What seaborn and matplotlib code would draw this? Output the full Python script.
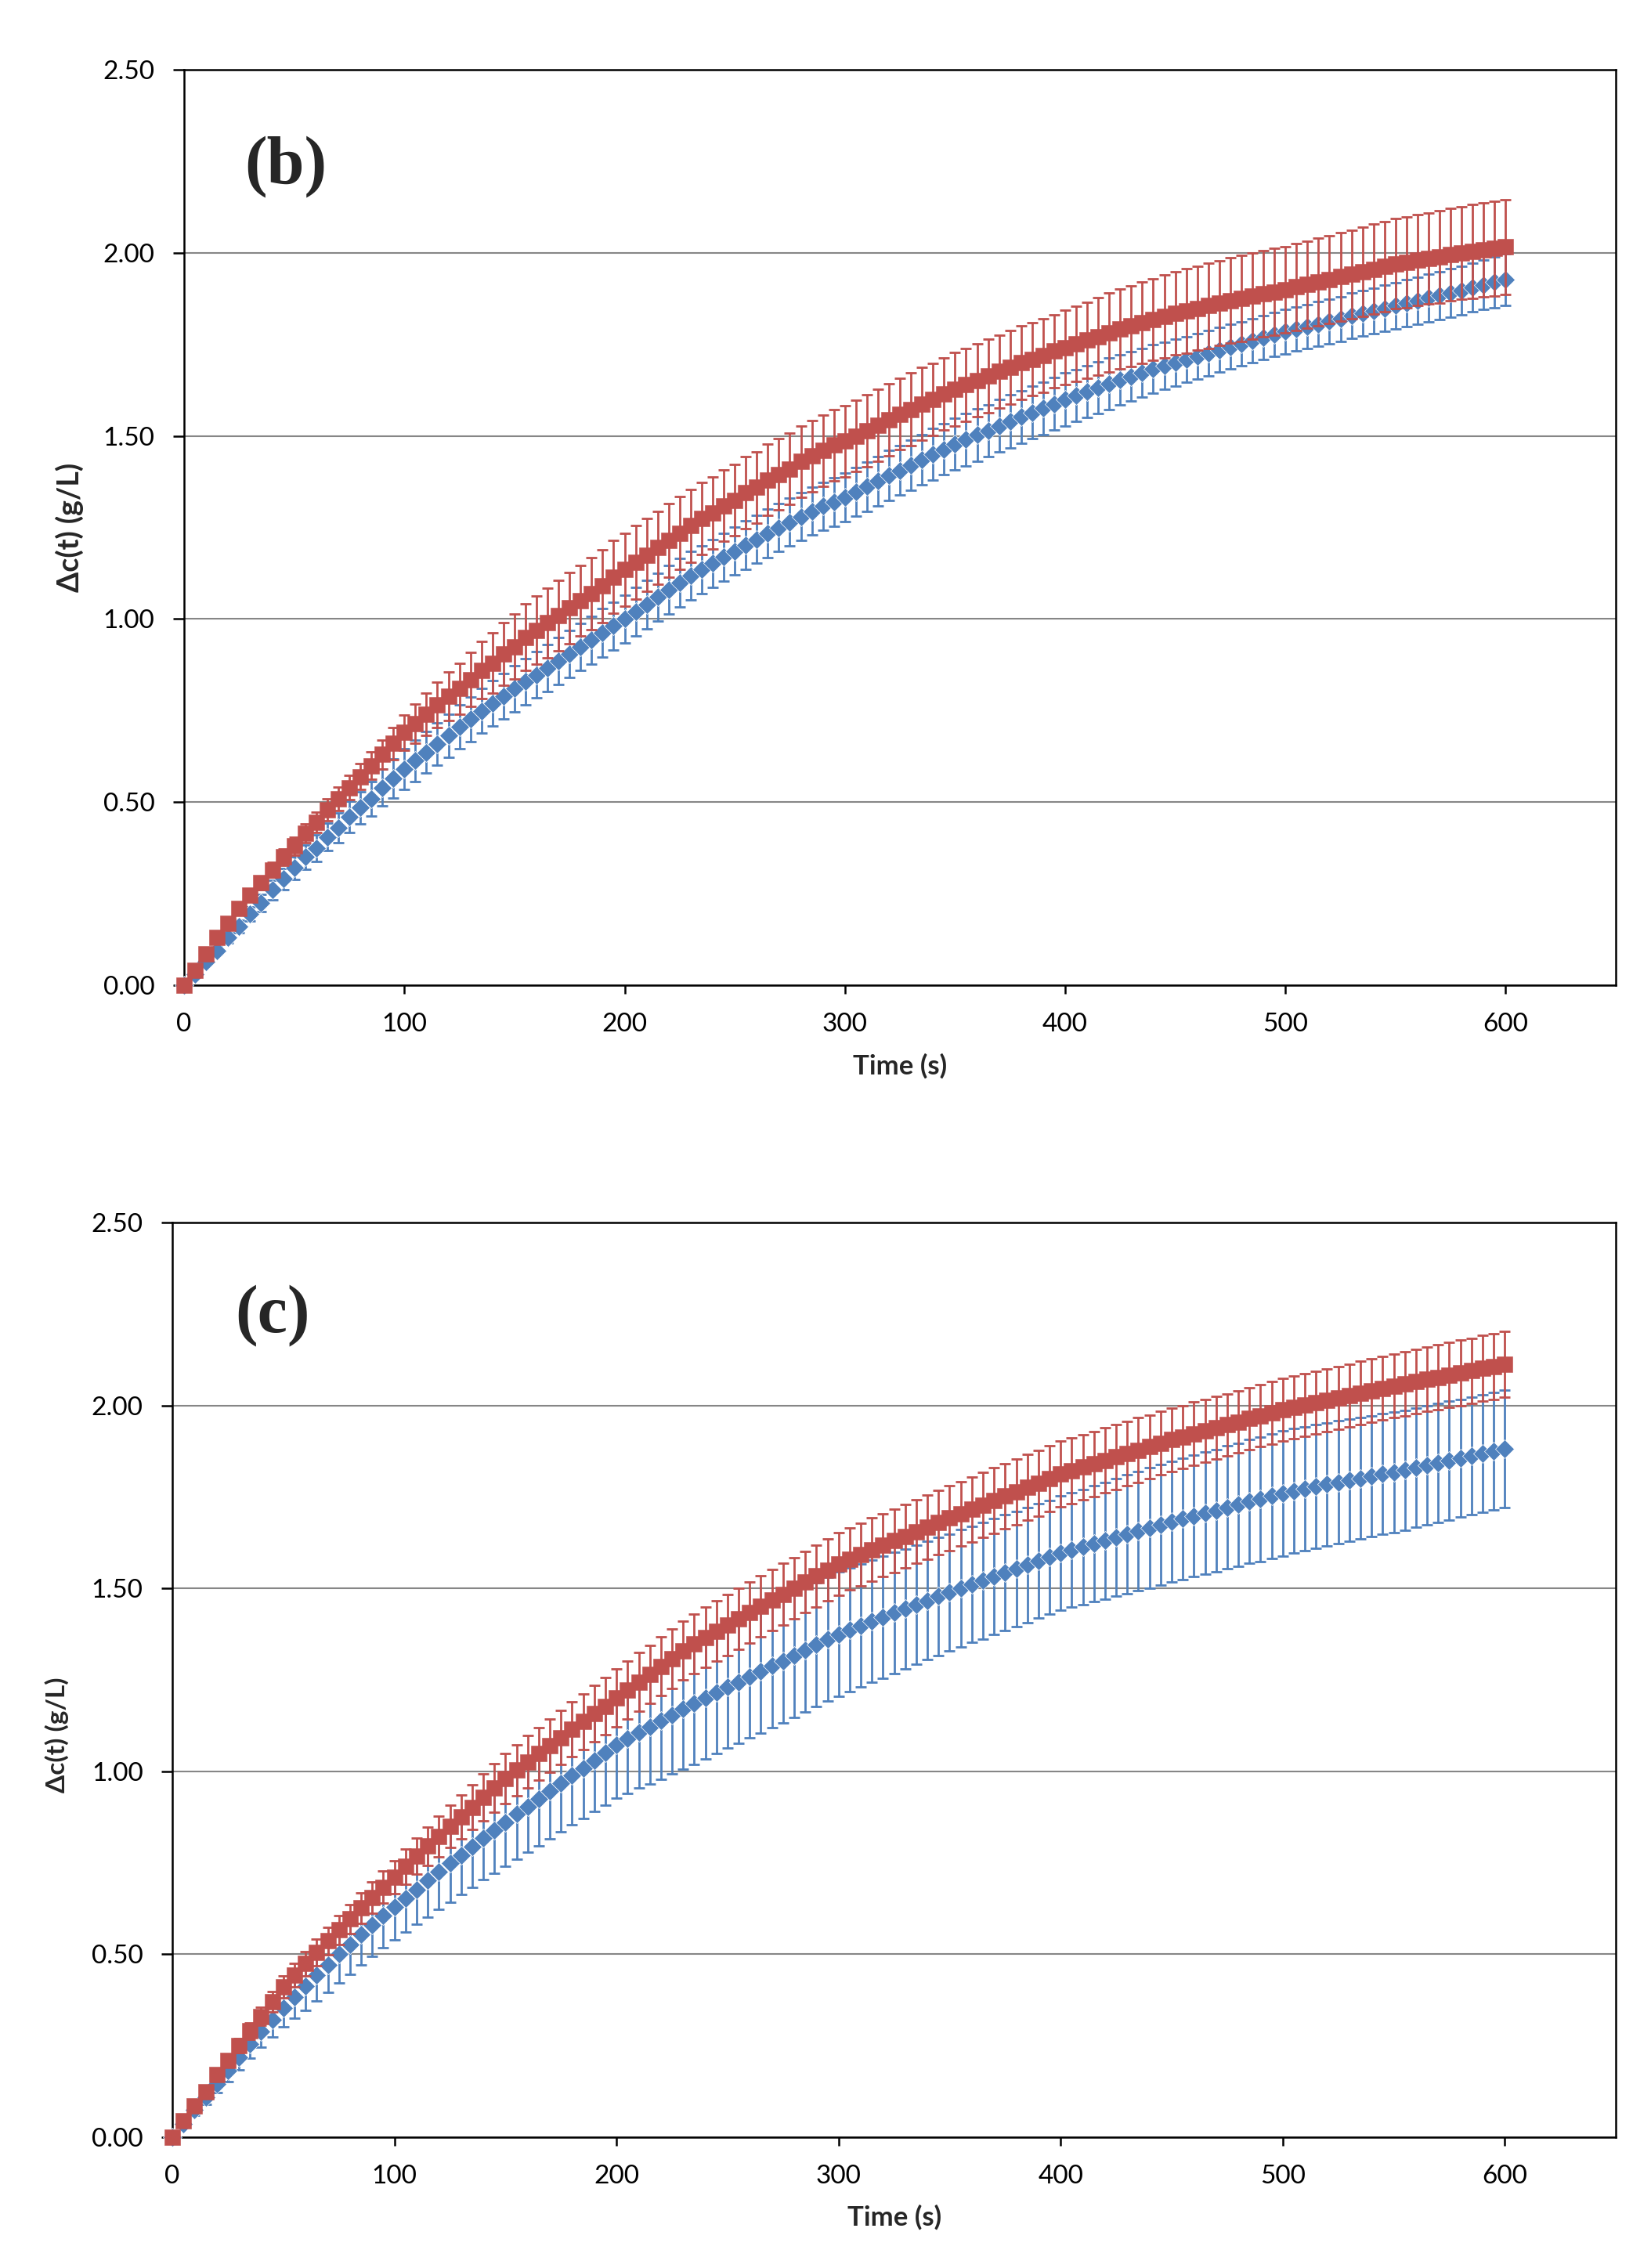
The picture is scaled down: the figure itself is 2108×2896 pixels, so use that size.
#import packages
import numpy as np
import pandas as pd
import matplotlib
matplotlib.use("Agg")
import matplotlib.pyplot as plt
import seaborn as sns

#data, one point every 5 s from 0 to 600 s

time = list(range(0, 605, 5))

b_red = [0.000, 0.040, 0.085, 0.130, 0.170, 0.210, 0.245, 0.280, 0.315, 0.350,
         0.380, 0.415, 0.445, 0.480, 0.510, 0.540, 0.570, 0.600, 0.630, 0.660,
         0.690, 0.715, 0.740, 0.765, 0.790, 0.810, 0.835, 0.860, 0.880, 0.905,
         0.925, 0.950, 0.970, 0.990, 1.010, 1.030, 1.050, 1.070, 1.090, 1.115,
         1.135, 1.155, 1.175, 1.195, 1.215, 1.235, 1.255, 1.275, 1.290, 1.310,
         1.325, 1.345, 1.360, 1.380, 1.395, 1.410, 1.430, 1.445, 1.460, 1.475,
         1.486, 1.500, 1.515, 1.530, 1.545, 1.560, 1.573, 1.588, 1.600, 1.615,
         1.628, 1.640, 1.652, 1.664, 1.676, 1.688, 1.700, 1.710, 1.720, 1.732,
         1.742, 1.752, 1.762, 1.772, 1.782, 1.792, 1.800, 1.810, 1.818, 1.827,
         1.835, 1.842, 1.849, 1.856, 1.863, 1.870, 1.876, 1.882, 1.888, 1.894,
         1.900, 1.907, 1.914, 1.921, 1.928, 1.935, 1.942, 1.949, 1.956, 1.963,
         1.970, 1.975, 1.980, 1.985, 1.990, 1.995, 2.000, 2.004, 2.008, 2.012,
         2.016]

b_red_err = [0.000, 0.005, 0.008, 0.010, 0.012, 0.014, 0.016, 0.018, 0.020, 0.022,
             0.024, 0.026, 0.028, 0.030, 0.032, 0.034, 0.036, 0.038, 0.040, 0.043,
             0.048, 0.053, 0.058, 0.062, 0.066, 0.070, 0.074, 0.078, 0.082, 0.085,
             0.088, 0.091, 0.093, 0.095, 0.096, 0.097, 0.097, 0.098, 0.099, 0.100,
             0.100, 0.100, 0.100, 0.100, 0.100, 0.099, 0.099, 0.099, 0.098, 0.098,
             0.098, 0.098, 0.097, 0.097, 0.097, 0.097, 0.097, 0.097, 0.097, 0.097,
             0.097, 0.097, 0.098, 0.098, 0.098, 0.098, 0.099, 0.099, 0.099, 0.099,
             0.100, 0.100, 0.100, 0.100, 0.100, 0.100, 0.100, 0.100, 0.100, 0.100,
             0.101, 0.102, 0.104, 0.106, 0.108, 0.109, 0.110, 0.111, 0.112, 0.113,
             0.114, 0.115, 0.115, 0.116, 0.116, 0.117, 0.117, 0.117, 0.118, 0.118,
             0.118, 0.119, 0.119, 0.120, 0.120, 0.121, 0.121, 0.122, 0.122, 0.123,
             0.123, 0.124, 0.124, 0.125, 0.126, 0.126, 0.127, 0.128, 0.128, 0.129,
             0.130]

b_blue = [0.000, 0.030, 0.065, 0.095, 0.130, 0.160, 0.195, 0.225, 0.260, 0.290,
          0.320, 0.350, 0.375, 0.405, 0.430, 0.460, 0.485, 0.510, 0.540, 0.565,
          0.590, 0.613, 0.636, 0.659, 0.682, 0.705, 0.727, 0.749, 0.770, 0.790,
          0.810, 0.829, 0.848, 0.867, 0.886, 0.905, 0.924, 0.943, 0.962, 0.981,
          1.000, 1.020, 1.040, 1.060, 1.080, 1.100, 1.118, 1.135, 1.152, 1.169,
          1.186, 1.202, 1.218, 1.234, 1.250, 1.265, 1.280, 1.295, 1.308, 1.320,
          1.332, 1.347, 1.362, 1.377, 1.392, 1.406, 1.420, 1.435, 1.450, 1.464,
          1.478, 1.490, 1.503, 1.515, 1.528, 1.540, 1.552, 1.564, 1.576, 1.588,
          1.600, 1.610, 1.621, 1.632, 1.643, 1.653, 1.663, 1.673, 1.683, 1.692,
          1.700, 1.709, 1.718, 1.727, 1.735, 1.744, 1.752, 1.760, 1.768, 1.777,
          1.785, 1.792, 1.799, 1.806, 1.813, 1.820, 1.828, 1.835, 1.842, 1.849,
          1.856, 1.863, 1.870, 1.877, 1.884, 1.891, 1.898, 1.906, 1.913, 1.920,
          1.927]

b_blue_err = [0.000, 0.004, 0.007, 0.010, 0.014, 0.017, 0.020, 0.023, 0.026, 0.028,
              0.031, 0.033, 0.036, 0.038, 0.040, 0.042, 0.044, 0.047, 0.050, 0.053,
              0.055, 0.056, 0.057, 0.058, 0.059, 0.060, 0.061, 0.061, 0.062, 0.062,
              0.063, 0.063, 0.064, 0.064, 0.064, 0.065, 0.065, 0.065, 0.066, 0.066,
              0.066, 0.066, 0.066, 0.066, 0.066, 0.066, 0.066, 0.066, 0.066, 0.066,
              0.066, 0.066, 0.066, 0.066, 0.066, 0.066, 0.066, 0.066, 0.066, 0.066,
              0.066, 0.066, 0.067, 0.067, 0.068, 0.068, 0.069, 0.069, 0.070, 0.070,
              0.070, 0.071, 0.071, 0.071, 0.072, 0.072, 0.072, 0.072, 0.072, 0.072,
              0.072, 0.071, 0.071, 0.070, 0.070, 0.069, 0.068, 0.067, 0.066, 0.065,
              0.064, 0.063, 0.062, 0.062, 0.061, 0.061, 0.060, 0.060, 0.060, 0.060,
              0.060, 0.060, 0.060, 0.061, 0.061, 0.061, 0.062, 0.062, 0.062, 0.063,
              0.063, 0.064, 0.064, 0.065, 0.065, 0.066, 0.066, 0.067, 0.068, 0.069,
              0.070]

c_red = [0.000, 0.045, 0.085, 0.125, 0.170, 0.210, 0.250, 0.290, 0.330, 0.370,
         0.410, 0.442, 0.474, 0.505, 0.536, 0.566, 0.596, 0.626, 0.655, 0.683,
         0.711, 0.740, 0.768, 0.795, 0.822, 0.849, 0.876, 0.902, 0.928, 0.954,
         0.980, 1.003, 1.026, 1.048, 1.070, 1.092, 1.114, 1.136, 1.157, 1.178,
         1.200, 1.222, 1.244, 1.265, 1.287, 1.308, 1.330, 1.348, 1.366, 1.383,
         1.400, 1.417, 1.434, 1.451, 1.468, 1.484, 1.500, 1.517, 1.534, 1.550,
         1.567, 1.580, 1.593, 1.606, 1.618, 1.630, 1.642, 1.655, 1.667, 1.680,
         1.692, 1.704, 1.716, 1.728, 1.740, 1.752, 1.764, 1.776, 1.788, 1.800,
         1.812, 1.822, 1.831, 1.840, 1.850, 1.859, 1.868, 1.878, 1.887, 1.897,
         1.906, 1.914, 1.923, 1.931, 1.939, 1.947, 1.955, 1.964, 1.972, 1.980,
         1.988, 1.995, 2.001, 2.008, 2.014, 2.021, 2.027, 2.034, 2.040, 2.047,
         2.053, 2.059, 2.065, 2.071, 2.077, 2.083, 2.089, 2.095, 2.101, 2.107,
         2.113]

c_red_err = [0.000, 0.005, 0.010, 0.012, 0.015, 0.017, 0.020, 0.022, 0.025, 0.027,
             0.030, 0.032, 0.034, 0.036, 0.037, 0.039, 0.040, 0.042, 0.043, 0.044,
             0.045, 0.048, 0.050, 0.053, 0.055, 0.058, 0.060, 0.062, 0.064, 0.066,
             0.068, 0.070, 0.071, 0.072, 0.073, 0.074, 0.075, 0.076, 0.077, 0.078,
             0.079, 0.080, 0.080, 0.080, 0.081, 0.081, 0.081, 0.082, 0.082, 0.082,
             0.083, 0.083, 0.083, 0.083, 0.084, 0.084, 0.084, 0.084, 0.085, 0.085,
             0.085, 0.085, 0.086, 0.086, 0.086, 0.087, 0.087, 0.087, 0.088, 0.088,
             0.088, 0.088, 0.089, 0.089, 0.089, 0.089, 0.090, 0.090, 0.090, 0.090,
             0.090, 0.090, 0.089, 0.089, 0.089, 0.088, 0.088, 0.088, 0.087, 0.087,
             0.087, 0.086, 0.086, 0.086, 0.086, 0.085, 0.085, 0.085, 0.085, 0.085,
             0.085, 0.085, 0.085, 0.086, 0.086, 0.086, 0.086, 0.087, 0.087, 0.087,
             0.087, 0.088, 0.088, 0.088, 0.088, 0.089, 0.089, 0.089, 0.090, 0.090,
             0.090]

c_blue = [0.000, 0.037, 0.074, 0.110, 0.146, 0.182, 0.218, 0.254, 0.288, 0.320,
          0.352, 0.383, 0.413, 0.442, 0.471, 0.500, 0.527, 0.554, 0.580, 0.605,
          0.629, 0.653, 0.677, 0.701, 0.725, 0.748, 0.771, 0.794, 0.817, 0.839,
          0.861, 0.883, 0.904, 0.925, 0.946, 0.967, 0.988, 1.009, 1.030, 1.051,
          1.072, 1.089, 1.106, 1.122, 1.138, 1.154, 1.170, 1.185, 1.200, 1.215,
          1.230, 1.244, 1.259, 1.273, 1.288, 1.302, 1.317, 1.332, 1.346, 1.361,
          1.375, 1.387, 1.398, 1.410, 1.421, 1.433, 1.444, 1.455, 1.467, 1.478,
          1.489, 1.500, 1.511, 1.521, 1.532, 1.543, 1.553, 1.564, 1.575, 1.585,
          1.596, 1.605, 1.613, 1.622, 1.630, 1.639, 1.648, 1.656, 1.665, 1.673,
          1.682, 1.690, 1.698, 1.705, 1.713, 1.721, 1.729, 1.737, 1.744, 1.752,
          1.760, 1.766, 1.772, 1.778, 1.784, 1.790, 1.795, 1.801, 1.806, 1.812,
          1.817, 1.823, 1.830, 1.836, 1.843, 1.849, 1.855, 1.862, 1.868, 1.875,
          1.881]

c_blue_err = [0.000, 0.008, 0.015, 0.020, 0.025, 0.030, 0.035, 0.039, 0.043, 0.047,
              0.051, 0.058, 0.066, 0.070, 0.075, 0.078, 0.081, 0.084, 0.086, 0.088,
              0.090, 0.093, 0.096, 0.099, 0.102, 0.105, 0.108, 0.111, 0.114, 0.117,
              0.120, 0.123, 0.125, 0.128, 0.130, 0.133, 0.135, 0.138, 0.140, 0.143,
              0.145, 0.149, 0.152, 0.156, 0.159, 0.162, 0.165, 0.166, 0.166, 0.167,
              0.167, 0.167, 0.168, 0.168, 0.168, 0.169, 0.169, 0.169, 0.170, 0.170,
              0.170, 0.169, 0.168, 0.167, 0.166, 0.165, 0.164, 0.163, 0.162, 0.161,
              0.160, 0.160, 0.159, 0.159, 0.158, 0.158, 0.157, 0.157, 0.156, 0.156,
              0.156, 0.157, 0.158, 0.159, 0.160, 0.161, 0.162, 0.163, 0.164, 0.165,
              0.165, 0.166, 0.166, 0.167, 0.167, 0.168, 0.168, 0.169, 0.170, 0.170,
              0.171, 0.170, 0.170, 0.169, 0.168, 0.168, 0.167, 0.166, 0.165, 0.165,
              0.164, 0.164, 0.163, 0.163, 0.162, 0.162, 0.161, 0.161, 0.160, 0.160,
              0.160]

x_ticks = [0, 100, 200, 300, 400, 500, 600]
y_ticks = [0.0, 0.5, 1.0, 1.5, 2.0, 2.5]
y_tick_labels = ["0.00", "0.50", "1.00", "1.50", "2.00", "2.50"]

RED = "#C0504D"
BLUE = "#4F81BD"

#style

sns.set_style("white")
plt.rcParams["font.family"] = ["Lato", "DejaVu Sans"]


def draw_panel(ax, red, red_err, blue, blue_err, tag, tag_xy, ylab_size, ylab_y):
    df = pd.DataFrame({"t": time, "red": red, "red_err": red_err,
                       "blue": blue, "blue_err": blue_err})

    #blue series first, red on top
    ax.errorbar(df["t"], df["blue"], yerr=df["blue_err"], fmt="none", ecolor=BLUE,
                elinewidth=2.0, capsize=5, capthick=2.0, zorder=3, clip_on=False)
    sns.scatterplot(data=df, x="t", y="blue", marker="D", s=150, color=BLUE,
                    edgecolor="white", linewidth=0.5, zorder=4, clip_on=False, ax=ax)
    ax.errorbar(df["t"], df["red"], yerr=df["red_err"], fmt="none", ecolor=RED,
                elinewidth=2.0, capsize=5, capthick=2.0, zorder=5, clip_on=False)
    sns.scatterplot(data=df, x="t", y="red", marker="s", s=205, color=RED,
                    edgecolor=RED, linewidth=0.4, zorder=6, clip_on=False, ax=ax)

    ax.set_xlim(0, 650)
    ax.set_ylim(0, 2.5)
    ax.set_xticks(x_ticks)
    ax.set_xticklabels([str(v) for v in x_ticks])
    ax.set_yticks(y_ticks)
    ax.set_yticklabels(y_tick_labels)

    ax.set_axisbelow(True)
    ax.yaxis.grid(True, color="#868686", linewidth=1.5)
    ax.xaxis.grid(False)
    for side in ["left", "right", "top", "bottom"]:
        ax.spines[side].set_visible(True)
        ax.spines[side].set_color("black")
        ax.spines[side].set_linewidth(1.8)

    ax.tick_params(axis="y", direction="out", length=10, width=1.8, pad=17,
                   labelsize=24, left=True, colors="black")
    ax.tick_params(axis="x", direction="out", length=8, width=1.8, pad=17,
                   labelsize=24, bottom=True, colors="black")

    ax.set_xlabel("Time (s)", fontsize=25, fontweight="bold", va="top")
    ax.xaxis.set_label_coords(0.5, -0.074)
    ax.set_ylabel("\u0394c(t) (g/L)", fontsize=ylab_size, fontweight="bold", va="center")
    ax.yaxis.set_label_coords(-0.08, ylab_y)

    ax.text(tag_xy[0], tag_xy[1], tag, fontsize=62, fontweight="bold",
            family="Liberation Serif", ha="center", va="center")

    if ax.get_legend() is not None:
        ax.get_legend().remove()


fig = plt.figure(figsize=(21.08, 28.96), dpi=100)
ax_b = fig.add_axes([0.1115, 0.5656, 0.8672, 0.4036])
ax_c = fig.add_axes([0.1044, 0.0577, 0.8743, 0.4033])

draw_panel(ax_b, b_red, b_red_err, b_blue, b_blue_err, "(b)", (46, 2.235), 27, 0.5)
draw_panel(ax_c, c_red, c_red_err, c_blue, c_blue_err, "(c)", (45, 2.245), 24, 0.44)

fig.savefig("out.png", dpi=100, facecolor="white")
